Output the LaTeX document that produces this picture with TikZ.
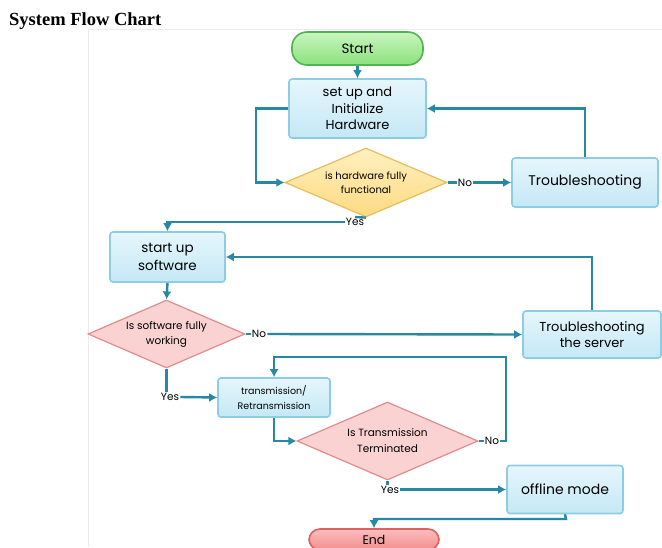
\documentclass[tikz,border=0pt]{standalone}
\usepackage{fontspec}
\setmainfont{Liberation Serif}
\newfontfamily\chartfont{Poppins}
\usetikzlibrary{shapes.geometric,arrows.meta}
\definecolor{arr}{RGB}{38,136,162}
\definecolor{boxtop}{RGB}{230,246,252}
\definecolor{boxbot}{RGB}{196,232,245}
\definecolor{boxline}{RGB}{140,205,228}
\definecolor{greentop}{RGB}{200,245,190}
\definecolor{greenbot}{RGB}{140,225,125}
\definecolor{greenline}{RGB}{80,180,80}
\definecolor{yeltop}{RGB}{255,240,190}
\definecolor{yelbot}{RGB}{252,218,130}
\definecolor{yelline}{RGB}{230,190,90}
\definecolor{pinkfill}{RGB}{250,210,210}
\definecolor{pinkline}{RGB}{225,140,140}
\definecolor{redtop}{RGB}{252,190,190}
\definecolor{redbot}{RGB}{245,140,140}
\definecolor{redline}{RGB}{225,95,95}
\tikzset{
  x=1pt,y=-1pt,
  every node/.style={font=\chartfont},
  procbox/.style={draw=boxline, line width=1.6pt, rounded corners=3pt, top color=boxtop, bottom color=boxbot, align=center, inner sep=1pt},
  termgreen/.style={draw=greenline, line width=1.6pt, rounded corners=15pt, top color=greentop, bottom color=greenbot, align=center},
  termred/.style={draw=redline, line width=1.6pt, rounded corners=11pt, top color=redtop, bottom color=redbot, align=center, inner sep=1pt},
  decyel/.style={diamond, draw=yelline, line width=1.2pt, top color=yeltop, bottom color=yelbot, align=center, inner sep=0pt, aspect=2.3},
  decpink/.style={diamond, draw=pinkline, line width=1.2pt, fill=pinkfill, align=center, inner sep=0pt, aspect=2.3},
  flow/.style={draw=arr, line width=2.4pt, -{Latex[length=8pt,width=9pt]}},
  plain/.style={draw=arr, line width=2.4pt},
  lab/.style={fill=white, inner sep=1pt, font=\chartfont\fontsize{10.5}{12}\selectfont},
}
\begin{document}
\begin{tikzpicture}
\useasboundingbox (0,0) rectangle (662,547);
\fill[white] (0,0) rectangle (662,547);
% faint frame of the embedded picture
\draw[gray!15, line width=0.8pt] (88,547) -- (88,29.5) -- (662,29.5);
% title
\node[font=\fontsize{18.5}{20}\selectfont\bfseries, anchor=base west, inner sep=0pt] (title) at (9,25) {System Flow Chart};

% nodes
\node[termgreen, minimum width=131, minimum height=33, font=\chartfont\fontsize{13.5}{15}\selectfont] (start) at (357.5,48.5) {Start};
\node[procbox, minimum width=137, minimum height=59, font=\chartfont\fontsize{13}{16.5}\selectfont] (setup) at (357.5,108.5) {set up and\\Initialize\\Hardware};
\node[decyel, minimum width=162, minimum height=69, font=\chartfont\fontsize{10}{14}\selectfont] (hwq) at (366,182.5) {is hardware fully\\functional};
\node[procbox, minimum width=146, minimum height=49, font=\chartfont\fontsize{14}{16}\selectfont] (trouble) at (585,182.5) {Troubleshooting};
\node[procbox, minimum width=115, minimum height=50, font=\chartfont\fontsize{13.5}{18}\selectfont] (soft) at (167.5,257) {start up\\software};
\node[decpink, minimum width=157, minimum height=68, font=\chartfont\fontsize{10.5}{15}\selectfont] (swq) at (166.5,334) {Is software fully\\working};
\node[procbox, minimum width=138, minimum height=47, font=\chartfont\fontsize{13}{16}\selectfont] (server) at (592,334.5) {Troubleshooting\\the server};
\node[procbox, minimum width=112, minimum height=39, font=\chartfont\fontsize{9.5}{15}\selectfont] (trans) at (274,397.5) {transmission/\\Retransmission};
\node[decpink, minimum width=181, minimum height=78, font=\chartfont\fontsize{10.5}{16}\selectfont] (tq) at (387.5,441) {Is Transmission\\Terminated};
\node[procbox, minimum width=116, minimum height=48, font=\chartfont\fontsize{14}{16}\selectfont] (offline) at (565,489.5) {offline mode};
\node[termred, minimum width=130, minimum height=21, font=\chartfont\fontsize{12.5}{14}\selectfont] (endn) at (374,539.5) {End};

% labels
\node[lab] (no1) at (465,182.5) {No};
\node[lab] (yes1) at (355,222) {Yes};
\node[lab] (no2) at (259,334) {No};
\node[lab] (yes2) at (170,397) {Yes};
\node[lab] (no3) at (492,441) {No};
\node[lab] (yes3) at (390,489.5) {Yes};
\coordinate (c3) at (506,357);
\coordinate (c4) at (566,519);

% connectors
\draw[flow] (start) -- (setup);
\draw[flow] (setup.west) -- ++(-32,0) |- (hwq.west);
\draw[plain] (hwq.east) -- (no1.west);
\draw[flow] (no1.east) -- (trouble.west);
\draw[flow] (trouble.north) |- (setup.east);
\draw[plain] (hwq.south) -- (yes1.north);
\draw[flow] (yes1.west) -| (soft.north);
\draw[flow] (server.north) |- (soft.east);
\draw[flow] (soft.south) -- (swq.north);
\draw[plain] (swq.east) -- (no2.west);
\draw[flow] (no2.east) -- (server.west);
\draw[plain] (swq.south) -- (swq.south |- yes2.north);
\draw[flow] (yes2.east) -- (trans.west);
\draw[flow] (trans.south) |- (tq.west);
\draw[plain] (tq.east) -- (no3.west);
\draw[flow] (no3.east) -| (c3) -| (trans.north);
\draw[plain] (tq.south) -- (tq.south |- yes3.north);
\draw[flow] (yes3.east) -- (offline.west);
\draw[flow] (offline.south) -- (c4) -| (endn.north);
\end{tikzpicture}
\end{document}
